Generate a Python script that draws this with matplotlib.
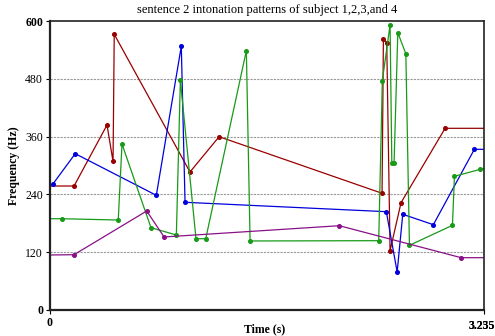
import matplotlib
matplotlib.use('Agg')
from matplotlib import pyplot as plt
from matplotlib.transforms import offset_copy

plt.rcParams['font.family'] = ['Liberation Serif', 'DejaVu Serif']

#------------------------------------------------------------------------------
# Data (time in s, frequency in Hz)
#------------------------------------------------------------------------------
t_red = [0, 0.180, 0.427, 0.472, 0.481, 1.048, 1.266, 2.486, 2.496, 2.521, 2.546, 2.628, 2.958, 3.25]
f_red = [257.4, 257.4, 384.1, 308.3, 572.4, 286.5, 359.8, 242.3, 562.6, 555.0, 123.1, 222.8, 377.2, 377.2]

t_blue = [0.022, 0.189, 0.796, 0.983, 1.011, 2.518, 2.599, 2.641, 2.870, 3.177, 3.25]
f_blue = [261.6, 324.5, 238.1, 547.5, 223.6, 204.1, 78.9, 198.7, 177.1, 333.6, 333.6]

t_green = [0, 0.088, 0.511, 0.539, 0.756, 0.946, 0.976, 1.093, 1.166, 1.470, 1.498, 2.461,
           2.488, 2.546, 2.559, 2.576, 2.604, 2.664, 2.691, 3.013, 3.028, 3.222, 3.25]
f_green = [189.5, 189.5, 186.8, 344.6, 170.9, 155.7, 476.9, 148.0, 148.0, 538.3, 143.3, 143.9,
           476.1, 592.3, 305.8, 305.8, 575.7, 532.1, 134.3, 175.8, 277.6, 292.1, 294.0]

t_purple = [0, 0.180, 0.724, 0.854, 2.166, 3.078, 3.25]
f_purple = [114.2, 114.8, 205.5, 151.6, 175.0, 108.6, 108.6]

series = [
    (t_red, f_red, '#990000', slice(1, -1)),
    (t_blue, f_blue, '#0000dd', slice(0, -1)),
    (t_green, f_green, '#189a18', slice(1, -1)),
    (t_purple, f_purple, '#881188', slice(1, -1)),
]

y_ticks = [0, 120, 240, 360, 480, 600]
x_end_labels = ['3.235', '3.255']

#------------------------------------------------------------------------------
# Plot
#------------------------------------------------------------------------------
fig = plt.figure(figsize=(4.95, 3.36), dpi=100)
ax = fig.add_axes([0.101, 0.0774, 0.877, 0.8601])

for t, f, c, me in series:
    ax.plot(t, f, color=c, lw=0.9, marker='o', ms=2.6, markevery=me)

ax.set_xlim(0, 3.25)
ax.set_ylim(0, 600)

for y in y_ticks[1:-1]:
    ax.axhline(y, color='#999999', lw=0.8, ls=(0, (2, 1)), zorder=0)

ax.set_yticks(y_ticks)
ax.set_yticklabels([str(v) for v in y_ticks], fontsize=8.5)
for lab in (ax.get_yticklabels()[0], ax.get_yticklabels()[-1]):
    lab.set_fontweight('bold')

ax.set_xticks([0, 3.25])
ax.set_xticklabels(['0', ''], fontsize=8.5, fontweight='bold')
end_tr = offset_copy(ax.get_xaxis_transform(), fig=fig, x=-2, y=-10, units='dots')
for s in x_end_labels:
    ax.text(3.25, 0, s, transform=end_tr, ha='center', va='top',
            fontsize=8.5, fontweight='bold')

ax.tick_params(direction='out', length=3, width=0.8, pad=2)

for side in ['left', 'bottom']:
    ax.spines[side].set_linewidth(1.6)
for side in ['top', 'right']:
    ax.spines[side].set_linewidth(1.2)
for sp in ax.spines.values():
    sp.set_color('#222222')

ax.set_title('sentence 2 intonation patterns of subject 1,2,3,and 4', fontsize=9, pad=6)
ax.set_ylabel('Frequency (Hz)', fontsize=8.5, fontweight='bold', labelpad=4)
fig.text(0.535, 0.003, 'Time (s)', ha='center', va='bottom', fontsize=8.5, fontweight='bold')

fig.savefig('out.png', dpi=100)
